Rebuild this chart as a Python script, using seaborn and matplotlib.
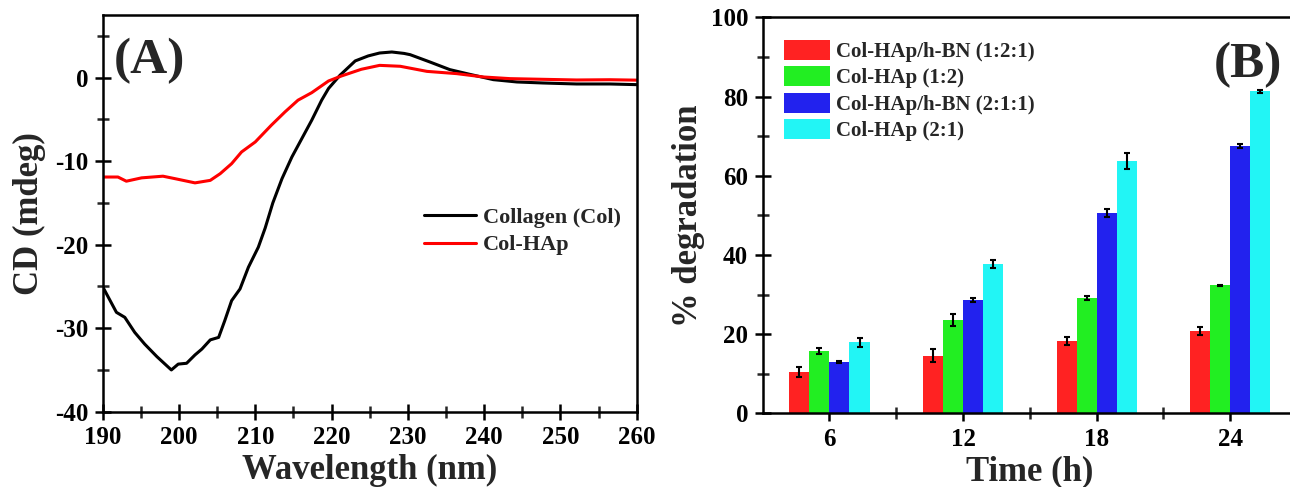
import numpy as np
import pandas as pd
import matplotlib
matplotlib.use("Agg")
import matplotlib.pyplot as plt
from matplotlib.ticker import MultipleLocator, FixedLocator
import seaborn as sns

# (A) CD spectra
col_wl = [190.1, 191.8, 192.9, 194.2, 195.5, 197.1, 199.0, 199.9, 201.0, 202.1, 203.0,
          204.1, 205.2, 206.0, 206.9, 208.0, 209.1, 210.4, 211.3, 212.3, 213.5, 214.8,
          216.1, 217.4, 218.7, 219.6, 221.1, 223.1, 224.8, 226.3, 227.9, 229.5, 230.3,
          232.9, 235.5, 238.1, 241.2, 244.3, 247.7, 252.1, 256.5, 260.0]
col_cd = [-25.2, -28.1, -28.7, -30.5, -31.9, -33.4, -35.0, -34.3, -34.2, -33.2, -32.5,
          -31.4, -31.1, -29.1, -26.7, -25.3, -22.7, -20.3, -18.0, -15.0, -12.1, -9.5,
          -7.3, -5.1, -2.7, -1.3, 0.28, 2.0, 2.6, 2.95, 3.07, 2.9, 2.75,
          1.87, 0.96, 0.4, -0.24, -0.52, -0.64, -0.76, -0.76, -0.84]

hap_wl = [190.0, 192.0, 193.1, 195.1, 197.9, 199.5, 202.1, 204.1, 205.4, 206.9, 208.2,
          210.0, 212.1, 213.9, 215.6, 217.4, 219.6, 221.3, 223.9, 226.3, 229.0, 232.5,
          236.4, 239.9, 243.4, 247.7, 252.1, 256.5, 260.0]
hap_cd = [-11.9, -11.9, -12.4, -12.0, -11.8, -12.1, -12.6, -12.3, -11.5, -10.3, -8.9,
          -7.7, -5.7, -4.1, -2.7, -1.8, -0.4, 0.2, 1.0, 1.47, 1.36, 0.75,
          0.48, 0.08, -0.12, -0.2, -0.28, -0.25, -0.3]

# (B) degradation
times = ["6", "12", "18", "24"]
samples = ["Col-HAp/h-BN (1:2:1)", "Col-HAp (1:2)", "Col-HAp/h-BN (2:1:1)", "Col-HAp (2:1)"]
deg_121 = [10.4, 14.6, 18.2, 20.8]
err_121 = [1.3, 1.7, 1.0, 0.9]
deg_12 = [15.7, 23.6, 29.1, 32.3]
err_12 = [0.7, 1.5, 0.5, 0.2]
deg_211 = [13.0, 28.7, 50.6, 67.4]
err_211 = [0.3, 0.5, 1.0, 0.5]
deg_21 = [17.9, 37.8, 63.7, 81.3]
err_21 = [1.2, 1.0, 2.1, 0.3]
bar_colors = ["#ff2222", "#22ee22", "#2222ee", "#22f5f5"]

sns.set_style("ticks")
plt.rcParams["font.family"] = ["Liberation Serif", "DejaVu Serif"]
plt.rcParams["font.weight"] = "bold"
plt.rcParams["axes.labelweight"] = "bold"
plt.rcParams["axes.unicode_minus"] = False

fig = plt.figure(figsize=(12.9, 4.87), dpi=100)
ax1 = fig.add_axes([0.0796, 0.1546, 0.414, 0.8146])
ax2 = fig.add_axes([0.5912, 0.1513, 0.4143, 0.813])

cd = pd.concat([
    pd.DataFrame({"wl": col_wl, "cd": col_cd, "s": "Collagen (Col)"}),
    pd.DataFrame({"wl": hap_wl, "cd": hap_cd, "s": "Col-HAp"}),
])
sns.lineplot(data=cd, x="wl", y="cd", hue="s", palette=["black", "#ff0000"],
             linewidth=2.2, ax=ax1)
ax1.set_xlim(190, 260)
ax1.set_ylim(-40, 7.5)
ax1.xaxis.set_major_locator(MultipleLocator(10))
ax1.xaxis.set_minor_locator(MultipleLocator(5))
ax1.yaxis.set_major_locator(MultipleLocator(10))
ax1.yaxis.set_minor_locator(MultipleLocator(5))
ax1.set_yticks([-40, -30, -20, -10, 0])
ax1.set_xlabel("Wavelength (nm)", fontsize=25, labelpad=3)
ax1.set_ylabel("CD (mdeg)", fontsize=25, labelpad=6)
ax1.legend(frameon=False, loc="upper left", bbox_to_anchor=(0.565, 0.565),
           handlelength=2.3, handletextpad=0.35, labelspacing=0.3,
           prop={"size": 16, "weight": "bold"})
ax1.text(0.02, 0.854, "(A)", transform=ax1.transAxes, fontsize=37, fontweight="bold",
         va="baseline", ha="left")

rows = []
for name, vals in zip(samples, [deg_121, deg_12, deg_211, deg_21]):
    for t, v in zip(times, vals):
        rows.append({"time": t, "sample": name, "deg": v})
bars = pd.DataFrame(rows)
sns.barplot(data=bars, x="time", y="deg", hue="sample", order=times, hue_order=samples,
            palette=bar_colors, width=0.6, gap=0, errorbar=None, saturation=1,
            edgecolor="none", ax=ax2)
for cont, errs in zip(ax2.containers, [err_121, err_12, err_211, err_21]):
    xs = [p.get_x() + p.get_width() / 2 for p in cont.patches]
    ys = [p.get_height() for p in cont.patches]
    ax2.errorbar(xs, ys, yerr=errs, fmt="none", ecolor="black", elinewidth=1.5,
                 capsize=2.5, capthick=1.5)
ax2.set_xlim(-0.5, 3.5)
ax2.set_ylim(0, 100)
ax2.yaxis.set_major_locator(MultipleLocator(20))
ax2.yaxis.set_minor_locator(MultipleLocator(10))
ax2.xaxis.set_minor_locator(FixedLocator([0.5, 1.5, 2.5]))
ax2.set_xlabel("Time (h)", fontsize=25, labelpad=3)
ax2.set_ylabel("% degradation", fontsize=25, labelpad=4)
ax2.legend(frameon=False, loc="upper left", bbox_to_anchor=(0.005, 0.99),
           handlelength=2.2, handleheight=1.1, handletextpad=0.3, labelspacing=0.2,
           prop={"size": 15, "weight": "bold"})
ax2.text(3.39, 84.9, "(B)", fontsize=37, fontweight="bold", va="baseline", ha="right")

for ax in (ax1, ax2):
    for sp in ax.spines.values():
        sp.set_linewidth(1.8)
        sp.set_color("black")
    ax.tick_params(which="major", direction="inout", length=11, width=1.8,
                   labelsize=18, pad=5, colors="black")
    ax.tick_params(which="minor", direction="inout", length=8, width=1.8)
    for lab in ax.get_xticklabels() + ax.get_yticklabels():
        lab.set_fontweight("bold")

fig.savefig("out.png", dpi=100)
